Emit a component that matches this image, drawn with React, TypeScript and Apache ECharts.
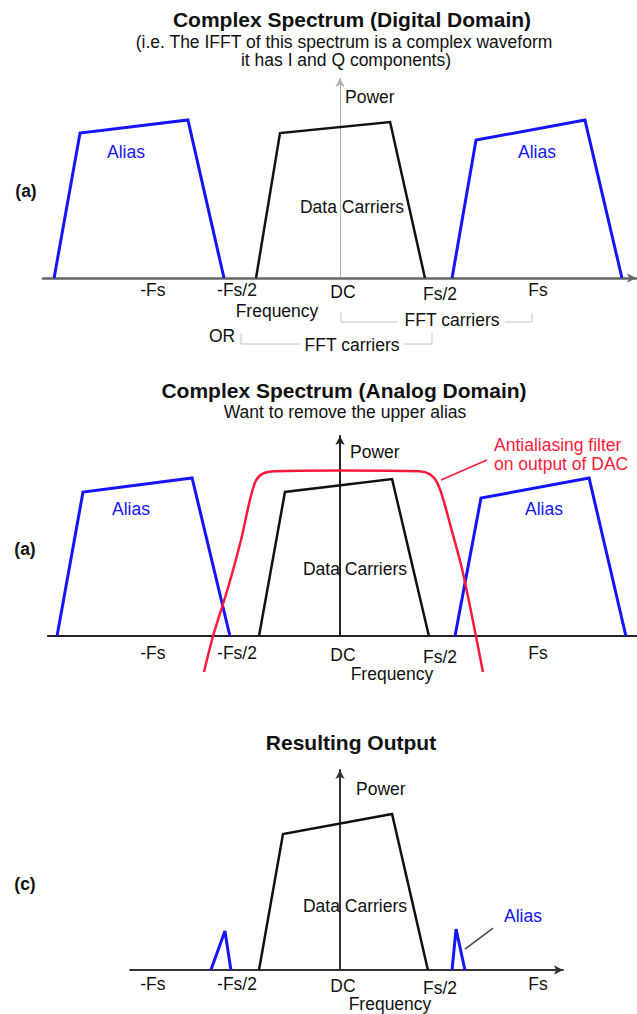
import React, { useEffect, useRef } from "react";
import * as echarts from "echarts";

// ---------- data (frequency in units of Fs, power in relative units) ----------
const TICK_POS = [-0.945, -0.52, 0.015, 0.505, 1.0];
const TICK_LABELS = ["-Fs", "-Fs/2", "DC", "Fs/2", "Fs"];

// Panel (a) digital domain
const digAliasLow = [[-1.444, 0], [-1.313, 0.906], [-0.768, 0.988], [-0.586, 0]];
const digCarriers = [[-0.424, 0], [-0.303, 0.906], [0.253, 0.975], [0.429, 0]];
const digAliasHigh = [[0.566, 0], [0.687, 0.862], [1.237, 0.988], [1.424, 0]];

// Panel (a) analog domain
const anaAliasLow = [[-1.429, 0], [-1.298, 0.9], [-0.747, 0.988], [-0.556, 0]];
const anaCarriers = [[-0.409, 0], [-0.278, 0.9], [0.263, 0.981], [0.449, 0]];
const anaAliasHigh = [[0.581, 0], [0.712, 0.862], [1.258, 0.988], [1.444, 0]];
const filterCurve = [
  [-0.687, -0.225], [-0.641, 0], [-0.566, 0.3], [-0.5, 0.6], [-0.455, 0.85],
  [-0.425, 0.97], [-0.39, 1.015], [-0.33, 1.03], [0, 1.035], [0.4, 1.03],
  [0.455, 1.01], [0.49, 0.96], [0.52, 0.86], [0.56, 0.68], [0.62, 0.4], [0.722, -0.225],
];
const filterLeader = [[0.51, 0.975], [0.742, 1.1]];

// Panel (c) resulting output
const outCarriers = [[-0.409, 0], [-0.288, 0.85], [0.263, 0.975], [0.444, 0]];
const outAliasLow = [[-0.652, 0], [-0.581, 0.244], [-0.551, 0]];
const outAliasHigh = [[0.566, 0], [0.586, 0.256], [0.631, 0]];
const aliasLeader = [[0.773, 0.262], [0.631, 0.131]];

// ---------- layout ----------
const FONT = "'Liberation Sans', Arial, Helvetica, sans-serif";
const KX = 198; // px per Fs
const KY = 160; // px per power unit
const DCX = 340;
const YMAX = 1.25;
const BLUE = "#1414ff";
const RED = "#ff1a3c";

const PANELS = [
  { baseline: 278, xmin: -1.5, xmax: 1.495, xColor: "#666", xWidth: 2.5, yColor: "#b0b0b0", yWidth: 1, xArrow: true, margin: 3 },
  { baseline: 636, xmin: -1.475, xmax: 1.5, xColor: "#222", xWidth: 2, yColor: "#222", yWidth: 2, xArrow: false, margin: 8 },
  { baseline: 970, xmin: -1.06, xmax: 1.126, xColor: "#333", xWidth: 2, yColor: "#333", yWidth: 2, xArrow: true, margin: 5 },
];

function App() {
  const ref = useRef<HTMLDivElement>(null);
  useEffect(() => {
    if (!ref.current) return;
    const chart = echarts.init(ref.current, undefined, { renderer: "svg" });

    const grids = PANELS.map((p) => ({
      left: DCX + KX * p.xmin,
      width: KX * (p.xmax - p.xmin),
      top: p.baseline - KY * YMAX,
      height: KY * YMAX,
      containLabel: false,
    }));

    const labelStyleKey = (v: number) => {
      const i = TICK_POS.indexOf(v);
      const lbl = TICK_LABELS[i] ?? "";
      const key = lbl === "Fs/2" ? "lo" : lbl === "DC" ? "mid" : "n";
      return `{${key}|${lbl}}`;
    };

    const xAxes = PANELS.map((p, i) => ({
      type: "value",
      gridIndex: i,
      min: p.xmin,
      max: p.xmax,
      splitLine: { show: false },
      axisTick: { show: false },
      axisLine: {
        show: true,
        onZero: true,
        symbol: p.xArrow ? ["none", "arrow"] : ["none", "none"],
        symbolSize: [7, 9],
        lineStyle: { color: p.xColor, width: p.xWidth },
      },
      axisLabel: {
        show: true,
        customValues: TICK_POS,
        margin: p.margin,
        formatter: (v: number) => labelStyleKey(v),
        color: "#111",
        fontFamily: FONT,
        fontSize: 17.5,
        rich: {
          n: { fontFamily: FONT, fontSize: 17.5, color: "#111", padding: [0, 0, 0, 0] },
          mid: { fontFamily: FONT, fontSize: 17.5, color: "#111", padding: [2, 0, 0, 0] },
          lo: { fontFamily: FONT, fontSize: 17.5, color: "#111", padding: [4, 0, 0, 0] },
        },
      },
    }));

    const yAxes = PANELS.map((p, i) => ({
      type: "value",
      gridIndex: i,
      min: 0,
      max: YMAX,
      splitLine: { show: false },
      axisTick: { show: false },
      axisLabel: { show: false },
      axisLine: {
        show: true,
        onZero: true,
        symbol: ["none", "arrow"],
        symbolSize: [7, 9],
        lineStyle: { color: p.yColor, width: p.yWidth },
      },
    }));

    const line = (panel: number, data: number[][], color: string, width: number, extra: any = {}) => ({
      type: "line",
      xAxisIndex: panel,
      yAxisIndex: panel,
      data,
      symbol: "none",
      clip: false,
      silent: true,
      lineStyle: { color, width, join: "miter" },
      ...extra,
    });

    const series = [
      line(0, digAliasLow, BLUE, 3),
      line(0, digCarriers, "#111", 2.5),
      line(0, digAliasHigh, BLUE, 3),
      line(1, anaAliasLow, BLUE, 3),
      line(1, anaCarriers, "#111", 2.5),
      line(1, anaAliasHigh, BLUE, 3),
      line(1, filterCurve, RED, 2.5, { smooth: 0.3 }),
      line(1, filterLeader, RED, 1.5),
      line(2, outCarriers, "#111", 2.5),
      line(2, outAliasLow, BLUE, 3),
      line(2, outAliasHigh, BLUE, 3),
      line(2, aliasLeader, "#444", 1.5),
    ];

    const txt = (text: string, x: number, y: number, o: any = {}) => ({
      type: "text",
      x,
      y,
      z: 100,
      silent: true,
      style: {
        text,
        fill: o.fill ?? "#111",
        fontSize: o.size ?? 17.5,
        fontWeight: o.bold ? "bold" : "normal",
        fontFamily: FONT,
        align: o.align ?? "center",
        verticalAlign: "middle",
      },
    });

    const poly = (points: number[][]) => ({
      type: "polyline",
      z: 50,
      silent: true,
      shape: { points },
      style: { stroke: "#c4c4c4", lineWidth: 1, fill: "none" },
    });

    const graphic = [
      // panel 1
      txt("Complex Spectrum (Digital Domain)", 352, 19, { bold: true, size: 21 }),
      txt("(i.e. The IFFT of this spectrum is a complex waveform", 344, 42),
      txt("it has I and Q components)", 346, 60),
      txt("Power", 345, 97, { align: "left" }),
      txt("Alias", 126, 152, { fill: BLUE }),
      txt("Alias", 537, 152, { fill: BLUE }),
      txt("(a)", 26, 191, { bold: true }),
      txt("Data Carriers", 352, 207),
      txt("Frequency", 277, 311),
      poly([[341, 312], [341, 322], [398, 322]]),
      txt("FFT carriers", 452, 320),
      poly([[505, 322], [532, 322], [532, 313]]),
      txt("OR", 222, 336),
      poly([[241, 333], [241, 344], [300, 344]]),
      txt("FFT carriers", 352, 345),
      poly([[404, 344], [432, 344], [432, 333]]),
      // panel 2
      txt("Complex Spectrum (Analog Domain)", 344, 390, { bold: true, size: 21 }),
      txt("Want to remove the upper alias", 345, 412),
      txt("Power", 350, 452, { align: "left" }),
      txt("Antialiasing filter", 494, 445, { align: "left", fill: RED }),
      txt("on output of DAC", 494, 464, { align: "left", fill: RED }),
      txt("Alias", 131, 509, { fill: BLUE }),
      txt("Alias", 544, 509, { fill: BLUE }),
      txt("(a)", 25, 549, { bold: true }),
      txt("Data Carriers", 355, 569),
      txt("Frequency", 392, 674),
      // panel 3
      txt("Resulting Output", 351, 742, { bold: true, size: 21 }),
      txt("Power", 356, 789, { align: "left" }),
      txt("(c)", 25, 884, { bold: true }),
      txt("Data Carriers", 355, 906),
      txt("Alias", 523, 916, { fill: BLUE }),
      txt("Frequency", 390, 1004),
    ];

    chart.setOption({
      animation: false,
      backgroundColor: "#ffffff",
      textStyle: { fontFamily: FONT },
      grid: grids,
      xAxis: xAxes,
      yAxis: yAxes,
      series,
      graphic,
    });
    return () => chart.dispose();
  }, []);

  return (
    <div
      ref={ref}
      style={{ position: "absolute", left: 0, top: 0, width: 637, height: 1014, background: "#fff" }}
    />
  );
}

export default App;
